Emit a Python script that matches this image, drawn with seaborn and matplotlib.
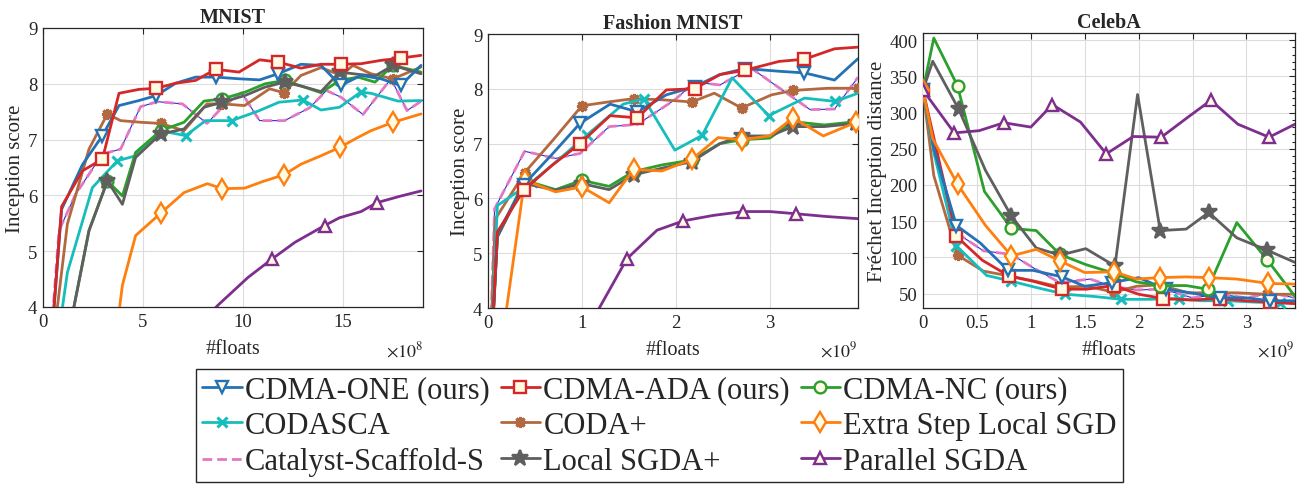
import numpy as np
import pandas as pd
import seaborn as sns
import matplotlib.pyplot as plt
from matplotlib.ticker import MultipleLocator

# ---------------- MNIST  (x in units of 1e8 floats) ----------------
mn_one_x = [0, 0.93, 1.97, 2.97, 3.8, 4.8, 5.67, 6.63, 7.63, 8.63, 9.8, 10.83, 11.75, 12.9, 13.9, 14.88, 15.9, 16.9, 17.88, 18.9]
mn_one_y = [1.4, 5.75, 6.55, 7.07, 7.61, 7.7, 7.79, 8.01, 8.12, 8.12, 8.09, 8.07, 8.18, 8.35, 8.33, 7.97, 8.15, 8.09, 7.97, 8.33]
mn_ada_x = mn_one_x
mn_ada_y = [1.4, 5.8, 6.44, 6.65, 7.83, 7.9, 7.92, 8.01, 8.06, 8.26, 8.21, 8.43, 8.39, 8.28, 8.35, 8.35, 8.36, 8.42, 8.46, 8.51]
mn_nc_x = [1.38, 2.3, 3.22, 3.97, 4.63, 5.88, 7.05, 8.05, 8.97, 10.1, 11.1, 12.08, 13.0, 13.9, 14.83, 15.75, 16.6, 17.5, 18.9]
mn_nc_y = [3.7, 5.37, 6.26, 5.99, 6.77, 7.16, 7.31, 7.69, 7.73, 7.85, 8.0, 8.06, 7.95, 7.84, 8.06, 8.12, 8.03, 8.33, 8.21]
mn_sgdap_x = mn_nc_x
mn_sgdap_y = [3.7, 5.37, 6.26, 5.84, 6.68, 7.10, 7.19, 7.58, 7.67, 7.79, 7.94, 8.03, 7.95, 7.86, 8.21, 8.17, 8.14, 8.33, 8.18]
mn_codasca_x = [0.5, 1.22, 2.47, 3.72, 4.63, 5.88, 7.13, 8.13, 9.43, 10.75, 11.8, 13.0, 13.9, 14.83, 15.88, 16.4, 17.75, 18.9]
mn_codasca_y = [2.8, 4.62, 6.14, 6.62, 6.71, 7.16, 7.07, 7.34, 7.34, 7.51, 7.67, 7.71, 7.53, 7.58, 7.85, 7.83, 7.69, 7.7]
mn_coda_x = [0.3, 1.22, 2.3, 3.22, 3.88, 4.9, 5.88, 7.05, 8.2, 8.97, 10.08, 11.33, 12.05, 12.9, 13.9, 14.9, 15.5, 16.4, 17.5, 18.9]
mn_coda_y = [2.75, 5.49, 6.83, 7.46, 7.34, 7.31, 7.29, 7.16, 7.64, 7.64, 7.61, 7.91, 7.84, 8.15, 8.29, 8.15, 8.33, 8.18, 8.09, 8.3]
mn_extra_x = [3.3, 3.97, 4.63, 5.88, 7.05, 8.22, 8.97, 10.08, 11.0, 12.05, 12.9, 13.9, 14.83, 15.7, 16.4, 17.5, 18.9]
mn_extra_y = [2.5, 4.39, 5.28, 5.68, 6.05, 6.21, 6.12, 6.13, 6.25, 6.37, 6.56, 6.71, 6.86, 7.03, 7.16, 7.31, 7.46]
mn_cat_x = [0.2, 0.8, 1.63, 2.97, 3.88, 4.88, 5.72, 6.97, 8.2, 8.97, 9.93, 10.83, 12.08, 13.33, 14.17, 14.9, 16.0, 17.4, 18.2, 19.0]
mn_cat_y = [2.5, 5.37, 6.02, 6.74, 6.83, 7.59, 7.68, 7.64, 7.29, 7.58, 7.84, 7.34, 7.34, 7.57, 7.88, 7.76, 7.45, 8.09, 7.52, 7.71]
mn_par_x = [7.4, 8.8, 10.25, 11.45, 12.6, 14.08, 14.83, 15.9, 16.7, 17.8, 18.9]
mn_par_y = [3.55, 4.05, 4.53, 4.86, 5.16, 5.46, 5.6, 5.71, 5.87, 5.98, 6.08]

# ---------------- Fashion MNIST  (x in units of 1e9 floats) ----------------
fm_one_x = [0, 0.1, 0.38, 0.68, 0.98, 1.3, 1.59, 1.9, 2.2, 2.47, 2.74, 3.1, 3.37, 3.69, 3.94]
fm_one_y = [2.0, 5.35, 6.25, 6.8, 7.37, 7.72, 7.58, 7.89, 8.04, 8.26, 8.37, 8.32, 8.29, 8.16, 8.55]
fm_ada_x = fm_one_x
fm_ada_y = [2.0, 5.39, 6.15, 6.6, 7.0, 7.51, 7.47, 7.98, 8.0, 8.26, 8.34, 8.5, 8.54, 8.73, 8.76]
fm_nc_x = [0, 0.1, 0.39, 0.72, 1.0, 1.29, 1.55, 1.85, 2.17, 2.47, 2.7, 3.0, 3.25, 3.58, 3.92]
fm_nc_y = [2.0, 5.3, 6.33, 6.16, 6.33, 6.22, 6.49, 6.61, 6.7, 7.0, 7.07, 7.1, 7.4, 7.34, 7.4]
fm_sgdap_x = fm_nc_x
fm_sgdap_y = [2.0, 5.3, 6.27, 6.15, 6.27, 6.16, 6.43, 6.55, 6.67, 7.0, 7.14, 7.14, 7.31, 7.31, 7.37]
fm_codasca_x = [0, 0.1, 0.47, 0.76, 1.05, 1.44, 1.66, 1.99, 2.28, 2.6, 2.99, 3.37, 3.7, 3.94]
fm_codasca_y = [2.0, 5.87, 6.3, 6.72, 7.15, 7.72, 7.82, 6.88, 7.15, 8.2, 7.51, 7.83, 7.77, 7.92]
fm_coda_x = [0, 0.08, 0.39, 0.7, 1.0, 1.28, 1.55, 1.85, 2.17, 2.41, 2.7, 3.02, 3.25, 3.62, 3.94]
fm_coda_y = [2.2, 5.63, 6.47, 7.08, 7.69, 7.76, 7.82, 7.8, 7.76, 7.92, 7.65, 7.89, 7.97, 8.01, 8.01]
fm_extra_x = [0, 0.1, 0.39, 0.72, 1.0, 1.29, 1.55, 1.85, 2.17, 2.45, 2.7, 3.0, 3.25, 3.57, 3.92]
fm_extra_y = [1.5, 2.8, 6.33, 6.12, 6.21, 5.92, 6.53, 6.5, 6.71, 7.11, 7.07, 7.14, 7.47, 7.14, 7.39]
fm_cat_x = [0, 0.07, 0.39, 0.72, 0.98, 1.29, 1.59, 1.99, 2.2, 2.47, 2.8, 3.43, 3.69, 3.94]
fm_cat_y = [2.0, 5.81, 6.86, 6.73, 6.82, 7.31, 7.35, 7.8, 8.12, 8.07, 8.38, 7.62, 7.63, 8.21]
fm_par_x = [0.89, 1.48, 1.8, 2.08, 2.4, 2.72, 3.0, 3.28, 3.6, 3.94]
fm_par_y = [3.1, 4.9, 5.42, 5.59, 5.69, 5.76, 5.76, 5.72, 5.67, 5.63]

# ---------------- CelebA  (x in units of 1e9 floats) ----------------
ce_one_x = [0, 0.1, 0.31, 0.53, 0.79, 1.02, 1.29, 1.5, 1.75, 2.0, 2.25, 2.48, 2.75, 3.0, 3.22, 3.45]
ce_one_y = [331, 250, 144, 120, 82, 82, 73, 60, 65, 72, 56, 51, 44, 44, 40, 40]
ce_ada_x = [0, 0.11, 0.31, 0.55, 0.8, 1.02, 1.29, 1.52, 1.77, 2.0, 2.23, 2.48, 2.75, 3.0, 3.22, 3.45]
ce_ada_y = [331, 259, 129, 96, 74, 67, 56, 56, 61, 49, 43, 41, 43, 40, 38, 36]
ce_nc_x = [0, 0.1, 0.32, 0.57, 0.82, 1.05, 1.27, 1.51, 1.77, 1.98, 2.2, 2.44, 2.64, 2.91, 3.19, 3.45]
ce_nc_y = [331, 403, 337, 191, 140, 137, 104, 90, 78, 66, 61, 61, 56, 148, 97, 46]
ce_sgdap_x = [0, 0.09, 0.33, 0.58, 0.82, 1.05, 1.27, 1.51, 1.78, 1.99, 2.2, 2.44, 2.65, 2.91, 3.19, 3.45]
ce_sgdap_y = [331, 371, 305, 220, 157, 113, 103, 112, 88, 325, 137, 139, 162, 127, 110, 93]
ce_codasca_x = [0, 0.1, 0.31, 0.59, 0.82, 1.06, 1.32, 1.58, 1.84, 2.1, 2.37, 2.57, 2.83, 3.09, 3.31, 3.45]
ce_codasca_y = [331, 245, 116, 75, 67, 58, 49, 46, 42, 42, 43, 40, 40, 38, 37, 37]
ce_coda_x = [0, 0.1, 0.32, 0.56, 0.81, 1.04, 1.27, 1.52, 1.77, 1.98, 2.19, 2.46, 2.65, 2.91, 3.19, 3.45]
ce_coda_y = [331, 213, 103, 81, 74, 67, 59, 60, 52, 60, 62, 51, 51, 51, 49, 49]
ce_extra_x = [0, 0.09, 0.32, 0.58, 0.82, 1.05, 1.27, 1.5, 1.77, 1.98, 2.2, 2.44, 2.65, 2.91, 3.2, 3.45]
ce_extra_y = [331, 264, 201, 144, 102, 111, 95, 79, 80, 70, 72, 73, 72, 70, 64, 63]
ce_cat_x = [0, 0.1, 0.31, 0.56, 0.82, 1.04, 1.27, 1.55, 1.75, 1.98, 2.23, 2.5, 2.75, 3.0, 3.22, 3.45]
ce_cat_y = [331, 255, 134, 109, 104, 84, 65, 70, 60, 55, 56, 44, 49, 44, 51, 44]
ce_par_x = [0, 0.29, 0.52, 0.75, 1.0, 1.2, 1.46, 1.7, 1.95, 2.21, 2.46, 2.67, 2.92, 3.21, 3.45]
ce_par_y = [331, 272, 275, 286, 280, 311, 287, 243, 267, 266, 294, 317, 284, 266, 284]

methods = ["CDMA-ONE (ours)", "CDMA-ADA (ours)", "CDMA-NC (ours)",
           "CODASCA", "CODA+", "Extra Step Local SGD",
           "Catalyst-Scaffold-S", "Local SGDA+", "Parallel SGDA"]

FACE = "#fffbe3"
styles = {
    "CDMA-ONE (ours)":      dict(color="#2372b5", marker="v", ms=9),
    "CDMA-ADA (ours)":      dict(color="#d62728", marker="s", ms=8),
    "CDMA-NC (ours)":       dict(color="#2ca02c", marker="o", ms=8.5),
    "CODASCA":              dict(color="#15bdbd", marker="x", ms=7),
    "CODA+":                dict(color="#b3693f", marker=(8, 2, 0), ms=8),
    "Extra Step Local SGD": dict(color="#ff7f0e", marker="d", ms=10),
    "Catalyst-Scaffold-S":  dict(color="#e377c2", marker=None, ms=0),
    "Local SGDA+":          dict(color="#5f5f5f", marker="*", ms=12),
    "Parallel SGDA":        dict(color="#7e2f8e", marker="^", ms=9),
}

sns.set_theme(style="white")
plt.rcParams["font.family"] = ["Liberation Serif", "DejaVu Serif"]
plt.rcParams["mathtext.fontset"] = "stix"

fig = plt.figure(figsize=(13.15, 4.89), dpi=100)
ax1 = fig.add_axes([43 / 1315, 1 - 308 / 489, 380 / 1315, 279 / 489])
ax2 = fig.add_axes([488 / 1315, 1 - 309 / 489, 370 / 1315, 274 / 489])
ax3 = fig.add_axes([923 / 1315, 1 - 309 / 489, 372 / 1315, 275 / 489])


def draw(ax, name, xs, ys, marks):
    st = styles[name]
    if name == "Catalyst-Scaffold-S":
        # thin blue line showing through the pink dashes
        sns.lineplot(x=xs, y=ys, ax=ax, color="#2b2bd6", lw=0.8, legend=False, zorder=2)
        sns.lineplot(x=xs, y=ys, ax=ax, color=st["color"], lw=2.0, linestyle=(0, (3.5, 1.8)),
                     legend=False, label=name, zorder=3)
        return
    fill = st["color"] if name == "Local SGDA+" else FACE
    mew = 2.2 if name in ("CODASCA", "CODA+") else 1.7
    sns.lineplot(x=xs, y=ys, ax=ax, color=st["color"], lw=2.0, marker=st["marker"],
                 markevery=marks, markersize=st["ms"], markerfacecolor=fill,
                 markeredgecolor=st["color"], markeredgewidth=mew,
                 legend=False, label=name, zorder=3)


# MNIST
draw(ax1, "Parallel SGDA", mn_par_x, mn_par_y, [3, 5, 8])
draw(ax1, "Catalyst-Scaffold-S", mn_cat_x, mn_cat_y, None)
draw(ax1, "CODASCA", mn_codasca_x, mn_codasca_y, [3, 6, 8, 11, 14])
draw(ax1, "CODA+", mn_coda_x, mn_coda_y, [3, 6, 9, 12, 15, 18])
draw(ax1, "Extra Step Local SGD", mn_extra_x, mn_extra_y, [3, 6, 9, 12, 15])
draw(ax1, "CDMA-NC (ours)", mn_nc_x, mn_nc_y, [2, 5, 8, 11, 14, 17])
draw(ax1, "Local SGDA+", mn_sgdap_x, mn_sgdap_y, [2, 5, 8, 11, 14, 17])
draw(ax1, "CDMA-ONE (ours)", mn_one_x, mn_one_y, [3, 6, 9, 12, 15, 18])
draw(ax1, "CDMA-ADA (ours)", mn_ada_x, mn_ada_y, [3, 6, 9, 12, 15, 18])

# Fashion MNIST
even = [2, 4, 6, 8, 10, 12, 14]
draw(ax2, "Parallel SGDA", fm_par_x, fm_par_y, [1, 3, 5, 7])
draw(ax2, "Catalyst-Scaffold-S", fm_cat_x, fm_cat_y, None)
draw(ax2, "CODA+", fm_coda_x, fm_coda_y, even)
draw(ax2, "CODASCA", fm_codasca_x, fm_codasca_y, [2, 4, 6, 8, 10, 12])
draw(ax2, "CDMA-NC (ours)", fm_nc_x, fm_nc_y, even)
draw(ax2, "Local SGDA+", fm_sgdap_x, fm_sgdap_y, even)
draw(ax2, "Extra Step Local SGD", fm_extra_x, fm_extra_y, even)
draw(ax2, "CDMA-ONE (ours)", fm_one_x, fm_one_y, [2, 4, 6, 8, 10, 12])
draw(ax2, "CDMA-ADA (ours)", fm_ada_x, fm_ada_y, [2, 4, 6, 8, 10, 12])

# CelebA
even0 = [0, 2, 4, 6, 8, 10, 12, 14]
draw(ax3, "Catalyst-Scaffold-S", ce_cat_x, ce_cat_y, None)
draw(ax3, "CODA+", ce_coda_x, ce_coda_y, even)
draw(ax3, "CODASCA", ce_codasca_x, ce_codasca_y, even)
draw(ax3, "CDMA-ADA (ours)", ce_ada_x, ce_ada_y, even0)
draw(ax3, "CDMA-ONE (ours)", ce_one_x, ce_one_y, even0)
draw(ax3, "CDMA-NC (ours)", ce_nc_x, ce_nc_y, even)
draw(ax3, "Local SGDA+", ce_sgdap_x, ce_sgdap_y, even)
draw(ax3, "Extra Step Local SGD", ce_extra_x, ce_extra_y, even0)
draw(ax3, "Parallel SGDA", ce_par_x, ce_par_y, [0, 1, 3, 5, 7, 9, 11, 13])

ax1.set_xlim(0, 19)
ax1.set_ylim(4, 9)
ax1.set_xticks([0, 5, 10, 15])
ax2.set_xlim(0, 3.94)
ax2.set_ylim(4, 9)
ax2.set_xticks([0, 1, 2, 3])
ax3.set_xlim(0, 3.45)
ax3.set_ylim(30, 410)
ax3.set_xticks([0, 0.5, 1, 1.5, 2, 2.5, 3])
ax3.set_xticklabels(["0", "0.5", "1", "1.5", "2", "2.5", "3"])
ax3.set_yticks(np.arange(50, 401, 50))
ax3.yaxis.set_minor_locator(MultipleLocator(10))

titles = ["MNIST", "Fashion MNIST", "CelebA"]
ylabels = ["Inception score", "Inception score", "Fréchet Inception distance"]
exps = [r"$\times 10^{8}$", r"$\times 10^{9}$", r"$\times 10^{9}$"]
for ax, t, yl, ex in zip([ax1, ax2, ax3], titles, ylabels, exps):
    ax.grid(True, color="#dcdcdc", lw=0.8)
    ax.set_axisbelow(True)
    ax.tick_params(which="both", direction="in", top=True, right=True,
                   labelsize=13.5, width=0.8, pad=4, colors="#262626")
    ax.tick_params(which="major", length=4)
    ax.tick_params(which="minor", length=2.5)
    for s in ax.spines.values():
        s.set_color("#262626")
        s.set_linewidth(0.9)
    ax.set_title(t, fontsize=14.5, fontweight="bold", pad=4)
    ax.set_xlabel("#floats", fontsize=14.5, labelpad=7)
    ax.set_ylabel(yl, fontsize=15, labelpad=2)
    ax.text(1.0, -0.19, ex, transform=ax.transAxes, ha="right", va="bottom", fontsize=13)

handles = {l.get_label(): l for l in ax1.get_lines()}
order = [0, 3, 6, 1, 4, 7, 2, 5, 8]   # fill row by row across 3 columns
fig.legend([handles[methods[i]] for i in order], [methods[i] for i in order],
           ncol=3, loc="upper center", bbox_to_anchor=(0.5016, 0.243),
           fontsize=22, frameon=True, fancybox=False, edgecolor="#262626",
           framealpha=1, handlelength=1.3, handletextpad=0.1, columnspacing=0.35,
           labelspacing=0.22, borderpad=0.2, borderaxespad=0)

fig.savefig("out.png", dpi=100)
